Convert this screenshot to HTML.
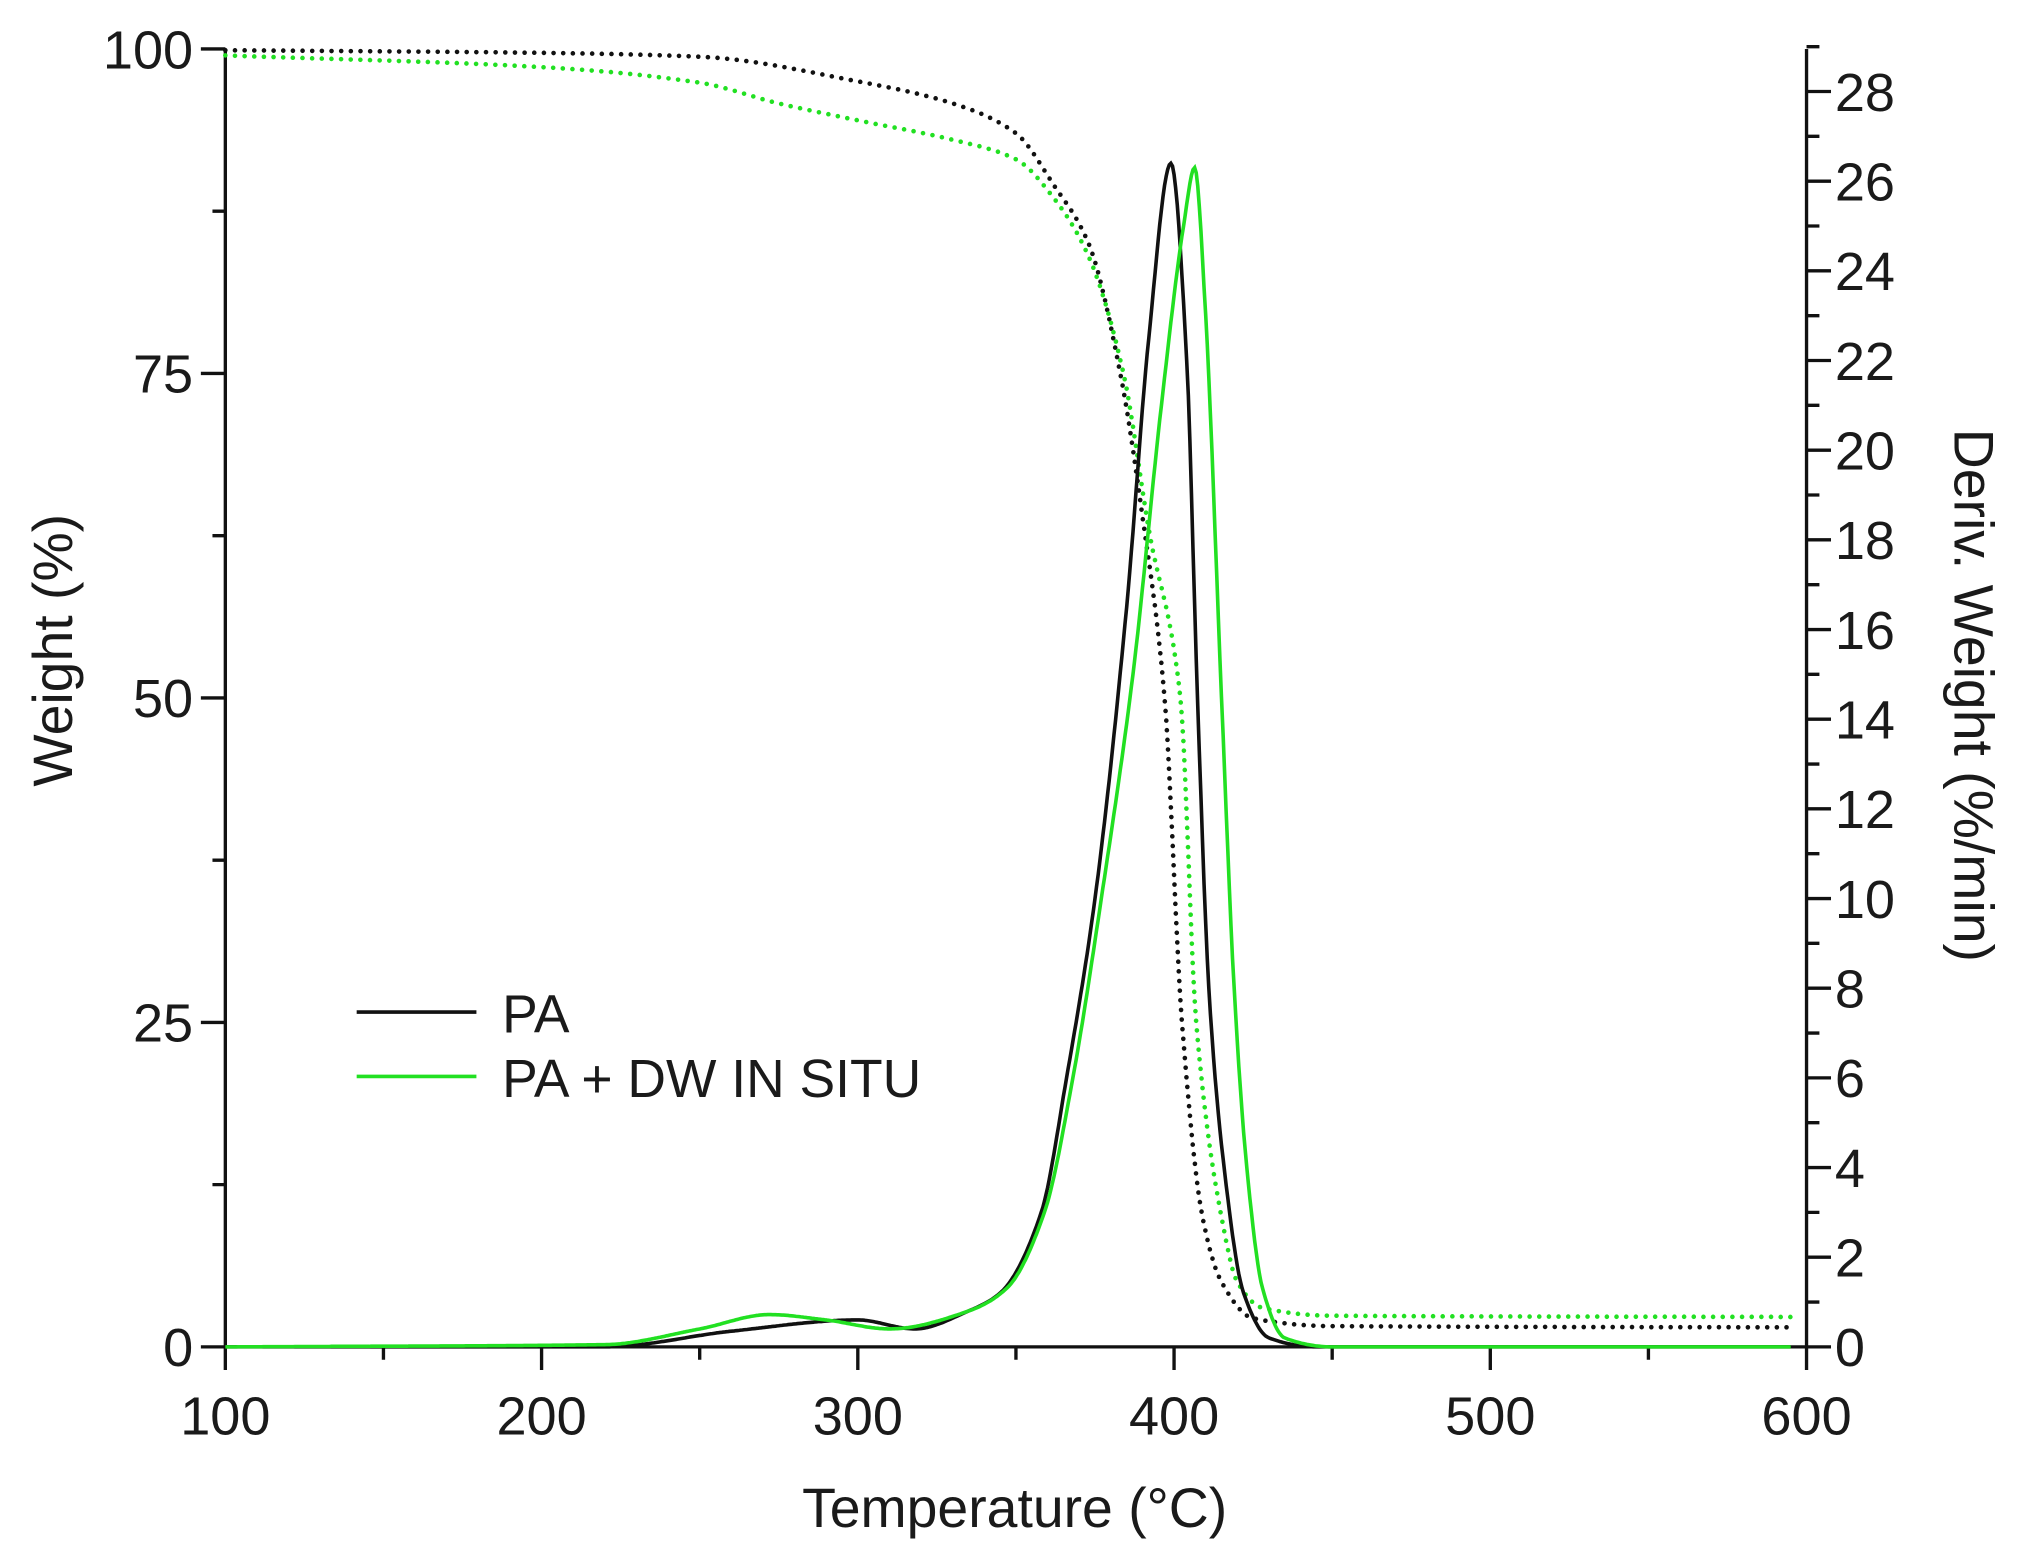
<!DOCTYPE html>
<html><head><meta charset="utf-8"><style>html,body{margin:0;padding:0;background:#fff}svg{display:block}text{font-family:"Liberation Sans",Arial,sans-serif;fill:#1a1a1a}</style></head>
<body>
<svg id="s" width="2019" height="1560" viewBox="0 0 1568 1211.5" xmlns="http://www.w3.org/2000/svg">
<g stroke="#111" stroke-width="2.6" fill="none">
<path d="M175,38 V1046 H1403 V38"/>
<path id="ticks"/>
</g>
<g id="curves" fill="none"></g>
<g font-size="42">
<text x="150" y="53" text-anchor="end">100</text>
<text x="150" y="305" text-anchor="end">75</text>
<text x="150" y="557" text-anchor="end">50</text>
<text x="150" y="809" text-anchor="end">25</text>
<text x="150" y="1061" text-anchor="end">0</text>
<g id="xl" text-anchor="middle"></g>
<g id="yr"></g>
<text x="788" y="1186" text-anchor="middle" font-size="43">Temperature (°C)</text>
<text transform="translate(56,505) rotate(-90)" text-anchor="middle" font-size="43">Weight (%)</text>
<text transform="translate(1518,540) rotate(90)" text-anchor="middle" font-size="43">Deriv. Weight (%/min)</text>
<text x="390" y="802" font-size="41.5">PA</text>
<text x="390" y="852" font-size="41.5">PA + DW IN SITU</text>
</g>
<line x1="277" y1="786" x2="370" y2="786" stroke="#111" stroke-width="2.8"/>
<line x1="277" y1="836" x2="370" y2="836" stroke="#22e022" stroke-width="2.8"/>
</svg>
<script>
var NS="http://www.w3.org/2000/svg";
function X(T){return 175+(T-100)*2.456}
function YW(w){return 38+(100-w)*10.08}
function YD(d){return 1046-d*34.82}
var t="";
for(var v=0;v<=100;v+=12.5){var y=YW(v);t+="M175,"+y+"h"+(v%25==0?-19:-10);}
for(var T=100;T<=600;T+=50){var x=X(T);t+="M"+x+",1046v"+(T%100==0?18:10);}
for(var d=0;d<=29;d++){var y=YD(d);t+="M1403,"+y+"h"+(d%2==0?19:10);}
document.getElementById("ticks").setAttribute("d",t);
var xl=document.getElementById("xl");
for(var T=100;T<=600;T+=100){var e=document.createElementNS(NS,"text");e.setAttribute("x",X(T));e.setAttribute("y",1114);e.textContent=T;xl.appendChild(e);}
var yr=document.getElementById("yr");
for(var d=0;d<=28;d+=2){var e=document.createElementNS(NS,"text");e.setAttribute("x",1425);e.setAttribute("y",YD(d)+15);e.textContent=d;yr.appendChild(e);}
function pchip(tab){var n=tab.length,x=tab.map(a=>a[0]),y=tab.map(a=>a[1]),h=[],dl=[],m=[];
for(var i=0;i<n-1;i++){h[i]=x[i+1]-x[i];dl[i]=(y[i+1]-y[i])/h[i];}
m[0]=dl[0];m[n-1]=dl[n-2];
for(var i=1;i<n-1;i++){if(dl[i-1]*dl[i]<=0)m[i]=0;else{var w1=2*h[i]+h[i-1],w2=h[i]+2*h[i-1];m[i]=(w1+w2)/(w1/dl[i-1]+w2/dl[i]);}}
return function(T){var i=0;while(i<n-2&&T>x[i+1])i++;var hh=h[i],s=(T-x[i])/hh;if(s<0)s=0;if(s>1)s=1;var s2=s*s,s3=s2*s;
return (2*s3-3*s2+1)*y[i]+(s3-2*s2+s)*hh*m[i]+(-2*s3+3*s2)*y[i+1]+(s3-s2)*hh*m[i+1];}}
var wB=[[100,99.9],[200,99.7],[250,99.4],[300,97.5],[330,95.8],[350,93.5],[362,89.5],[373,85],[383,75],[390,64],[397,50],[402.5,25],[409,10],[415,5],[425,2.2],[450,1.6],[600,1.5]];
var wG=[[100,99.5],[200,98.6],[250,97.4],[275,95.8],[300,94.5],[330,93],[350,91.5],[362,88.5],[373,84],[384,75],[392,63],[402,50],[407,25],[415,10],[420,5],[428,3],[450,2.4],[600,2.3]];
var dB=[[100,0],[220,0],[260,0.35],[300,0.6],[318,0.4],[335,0.8],[345,1.2],[358,3],[366,6],[375,10],[385,16.5],[392,22.5],[399,26.4],[404,22],[407.4,14.5],[411,8],[415.5,4.2],[422,1.2],[430,0.2],[445,0],[600,0]];
var dG=[[100,0],[220,0.05],[250,0.4],[272,0.72],[290,0.6],[310,0.4],[335,0.8],[347,1.3],[359,3],[368,6],[377,10],[387,15],[396,21],[403,25],[406.5,26.3],[410,23],[415,14.5],[419,8],[423,4],[428,1.3],[435,0.2],[450,0],[600,0]];
function path(tab,Y){var f=pchip(tab),p="";for(var T=100;T<=595;T+=0.5){p+=(p?"L":"M")+X(T).toFixed(1)+","+Y(f(T)).toFixed(1);}return p;}
var g=document.getElementById("curves");
function add(tab,Y,col,dash){var e=document.createElementNS(NS,"path");e.setAttribute("d",path(tab,Y));e.setAttribute("stroke",col);e.setAttribute("stroke-width",dash?3.6:2.8);if(dash){e.setAttribute("stroke-dasharray","0 7.5");e.setAttribute("stroke-linecap","round");}g.appendChild(e);}
add(wB,YW,"#111",true);add(wG,YW,"#22e022",true);
add(dB,YD,"#111",false);add(dG,YD,"#22e022",false);
</script>
</body></html>
